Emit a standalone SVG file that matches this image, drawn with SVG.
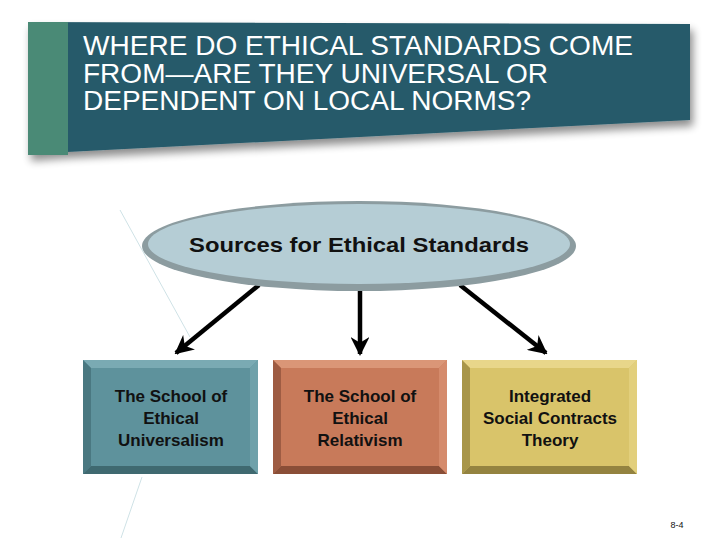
<svg xmlns="http://www.w3.org/2000/svg" width="720" height="540" viewBox="0 0 720 540">
<style>
.title{font-family:"Liberation Sans",Arial,sans-serif;font-size:27px;fill:#ffffff}
.lbl{font-family:"Liberation Sans",Arial,sans-serif;font-weight:bold;font-size:17px;fill:#111;text-anchor:middle}
.conn{stroke:#000;stroke-width:4.5;fill:none;marker-end:url(#ah)}
.deco{stroke:#cfe2e6;stroke-width:1;fill:none}
</style>
<defs>
<marker id="ah" viewBox="0 0 10 10" refX="9" refY="5" markerWidth="4.2" markerHeight="4.2" orient="auto" markerUnits="strokeWidth">
<path d="M0,0 L10,5 L0,10 L3,5 Z" fill="#000"/>
</marker>
<filter id="sh" x="-10%" y="-10%" width="130%" height="150%">
<feGaussianBlur in="SourceAlpha" stdDeviation="4"/>
<feOffset dx="3" dy="6" result="b"/>
<feComponentTransfer><feFuncA type="linear" slope="0.45"/></feComponentTransfer>
<feMerge><feMergeNode/><feMergeNode in="SourceGraphic"/></feMerge>
</filter>
</defs>
<rect width="720" height="540" fill="#fff"/>
<g id="decor">
<line class="deco" x1="120" y1="210" x2="190" y2="337"/>
<line class="deco" x1="142" y1="477" x2="121" y2="538"/>
</g>
<g id="banner">
<path d="M28,22 L690,24 L690,120 L67,152 L28,155 Z" fill="#265a6a" filter="url(#sh)"/>
<rect x="28" y="22" width="40" height="133" fill="#4a8a76"/>
<text class="title" x="83" y="55" textLength="550" lengthAdjust="spacingAndGlyphs">WHERE DO ETHICAL STANDARDS COME</text>
<text class="title" x="83" y="82.5" textLength="465" lengthAdjust="spacingAndGlyphs">FROM—ARE THEY UNIVERSAL OR</text>
<text class="title" x="83" y="110" textLength="448" lengthAdjust="spacingAndGlyphs">DEPENDENT ON LOCAL NORMS?</text>
</g>
<g id="connectors">
<line class="conn" x1="259" y1="285" x2="176" y2="353"/>
<line class="conn" x1="360" y1="291" x2="360" y2="354"/>
<line class="conn" x1="460" y1="285" x2="546" y2="353"/>
</g>
<g id="sources">
<ellipse cx="359" cy="246" rx="217" ry="45" fill="#8c9ca0"/>
<ellipse cx="359" cy="244" rx="211" ry="40" fill="#b5cdd5"/>
<text x="359" y="252" font-family="Liberation Sans, Arial, sans-serif" font-weight="bold" font-size="21" fill="#111" text-anchor="middle" textLength="340" lengthAdjust="spacingAndGlyphs">Sources for Ethical Standards</text>
</g>
<g id="universalism">
<rect x="83" y="360" width="175" height="114" fill="#5e929c"/>
<path d="M83,360 L258,360 L250,368 L91,368 Z" fill="#7aaab3"/>
<path d="M83,360 L91,368 L91,466 L83,474 Z" fill="#4a7881"/>
<path d="M83,474 L91,466 L250,466 L258,474 Z" fill="#3f6970"/>
<path d="M258,360 L250,368 L250,466 L258,474 Z" fill="#6fa1aa"/>
<text class="lbl" x="171" y="402">The School of</text>
<text class="lbl" x="171" y="424">Ethical</text>
<text class="lbl" x="171" y="446">Universalism</text>
</g>
<g id="relativism">
<rect x="273" y="360" width="174" height="114" fill="#c87a5a"/>
<path d="M273,360 L447,360 L439,368 L281,368 Z" fill="#da9677"/>
<path d="M273,360 L281,368 L281,466 L273,474 Z" fill="#9e5c43"/>
<path d="M273,474 L281,466 L439,466 L447,474 Z" fill="#8a4e37"/>
<path d="M447,360 L439,368 L439,466 L447,474 Z" fill="#d58b6c"/>
<text class="lbl" x="360" y="402">The School of</text>
<text class="lbl" x="360" y="424">Ethical</text>
<text class="lbl" x="360" y="446">Relativism</text>
</g>
<g id="iscT">
<rect x="462" y="360" width="175" height="114" fill="#d9c46a"/>
<path d="M462,360 L637,360 L629,368 L470,368 Z" fill="#e8d68a"/>
<path d="M462,360 L470,368 L470,466 L462,474 Z" fill="#a8964a"/>
<path d="M462,474 L470,466 L629,466 L637,474 Z" fill="#948340"/>
<path d="M637,360 L629,368 L629,466 L637,474 Z" fill="#e2cf7c"/>
<text class="lbl" x="550" y="402">Integrated</text>
<text class="lbl" x="550" y="424">Social Contracts</text>
<text class="lbl" x="550" y="446">Theory</text>
</g>
<text x="677" y="528" font-family="Liberation Sans, Arial, sans-serif" font-size="9" fill="#111" text-anchor="middle">8-4</text>
</svg>
